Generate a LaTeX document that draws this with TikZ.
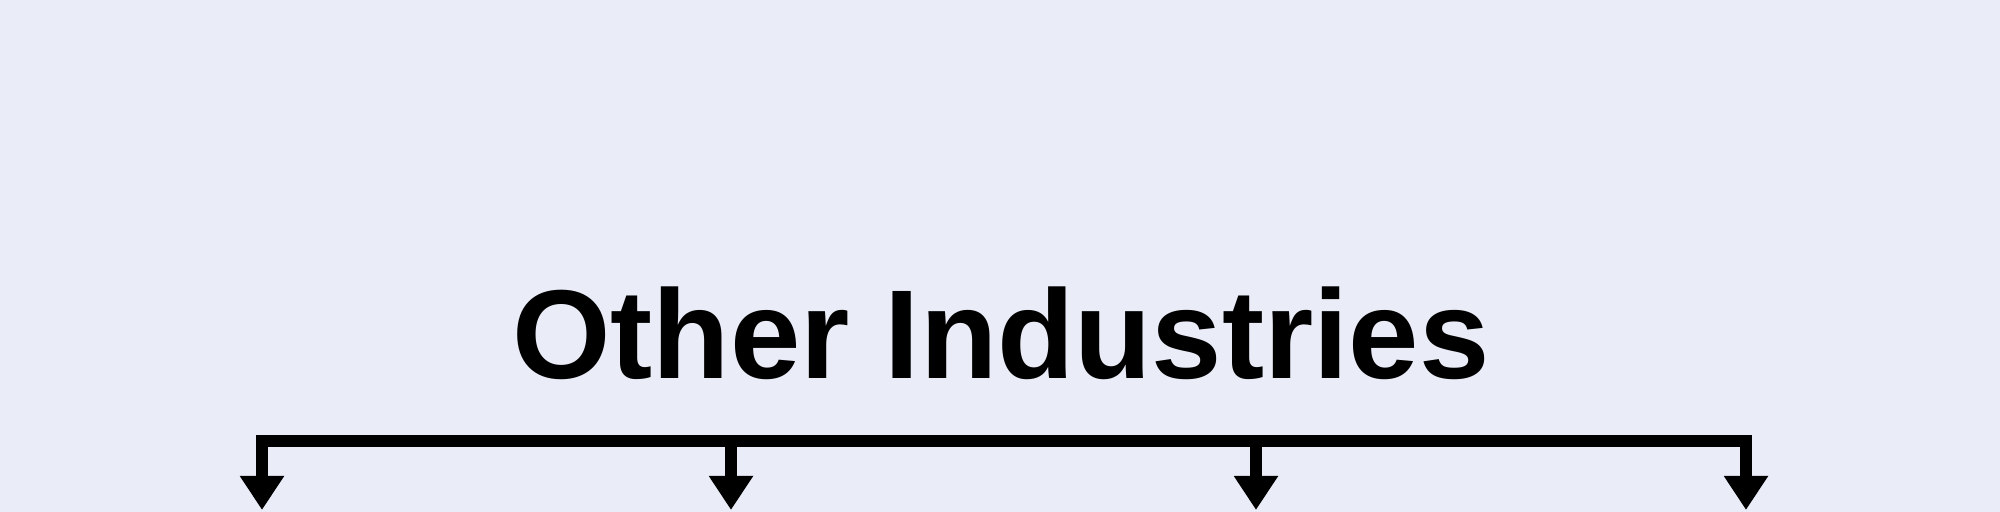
\documentclass[tikz,border=0pt]{standalone}
\usepackage{fontspec}
\setmainfont{Liberation Sans}
\usetikzlibrary{arrows.meta}
\definecolor{bgpale}{RGB}{234,237,248}

\begin{document}
\begin{tikzpicture}[
	bus/.style={line width=3.3pt, line cap=rect},
	branch/.style={line width=3.3pt, -{Triangle[width=0.42cm, length=0.34cm]}}
	]

			% Background and frame
			\fill[bgpale] (0,0) rectangle (20,5.12);
			\useasboundingbox (0,0) rectangle (20,5.12);

			% Title
			\node[anchor=base, inner sep=0pt, font=\fontsize{36}{40}\selectfont\bfseries] (title) at (10.01,1.33) {Other Industries};

			% Branch points on the bus and the free ends below
			\coordinate (b1) at (2.62,0.71);
			\coordinate (b2) at (7.31,0.71);
			\coordinate (b3) at (12.56,0.71);
			\coordinate (b4) at (17.46,0.71);
			\coordinate (e1) at (2.62,0.02);
			\coordinate (e2) at (7.31,0.02);
			\coordinate (e3) at (12.56,0.02);
			\coordinate (e4) at (17.46,0.02);

			% Bus line
			\draw[bus] (b1) -- (b4);

			% Arrows down
			\foreach \i in {1,...,4}
				\draw[branch] (b\i) -- (e\i);

		\end{tikzpicture}
\end{document}
